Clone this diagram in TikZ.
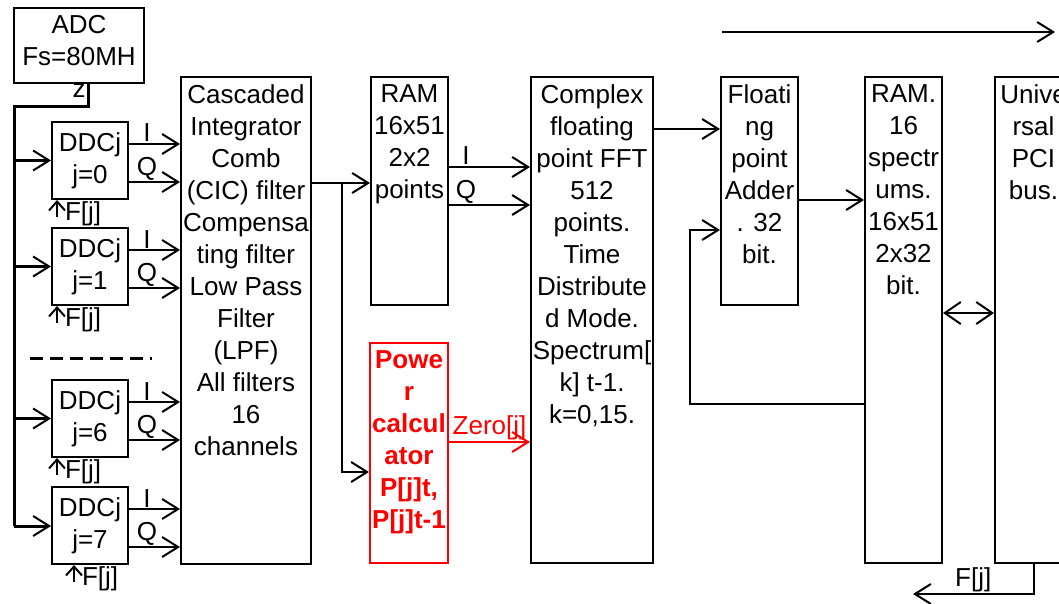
\documentclass[tikz,border=0pt]{standalone}
\usepackage{fontspec}
\setmainfont{Liberation Sans}
\usetikzlibrary{arrows.meta,positioning,calc}
\definecolor{pwrred}{RGB}{255,0,0}

\begin{document}
\begin{tikzpicture}[x=1pt,y=-1pt,font=\fontsize{26}{32}\selectfont,
  blk/.style={draw,line width=2pt,inner sep=0pt},
  intext/.style={anchor=north,align=center,inner sep=0pt,yshift=-8pt},
  ddc/.style={blk,minimum width=76pt,minimum height=77pt,align=center},
  tall/.style={blk,minimum width=77pt,minimum height=486pt},
  half/.style={blk,minimum width=77pt,minimum height=228pt},
  arr/.style={line width=2pt,-{Straight Barb[length=16pt,width=20pt,line width=2pt]}},
  bus/.style={line width=3pt},
  farr/.style={line width=2pt,-{Straight Barb[length=9pt,width=16pt,line width=2pt]}},
  flbl/.style={midway,anchor=west,xshift=6pt,yshift=-5pt,inner sep=1pt},
  iq/.style={pos=0,anchor=south,xshift=18pt,inner sep=1pt}]
  \path[use as bounding box,clip] (0,0) rectangle (1059,604);
  % ADC and the DDC channels
  \node[blk,minimum width=130pt,minimum height=75pt,
    label={[intext]north:{ADC\\Fs=80MH\\z}}] (adc) at (79,45.5) {};
  \foreach \k/\yy in {0/160.5,1/266.5,6/418.5,7/525.5}
    \node[ddc] (ddc\k) at (90,\yy) {DDCj\\j=\k};
  \draw[bus,dash pattern=on 13pt off 7pt] (30,358) -- (152,358);
  % filter block
  \node[blk,minimum width=130pt,minimum height=487pt,
    label={[intext]north:{Cascaded\\Integrator\\Comb\\(CIC) filter\\Compensa\\ting filter\\Low Pass\\Filter\\(LPF)\\All filters\\16\\channels}}] (cic) at (246,320.5) {};
  % memories, power, FFT, adder, PCI
  \node[half,label={[intext]north:{RAM\\16x51\\2x2\\points}}] (ram) at (409.5,191) {};
  \node[blk,draw=pwrred,minimum width=78pt,minimum height=220pt,
    label={[intext,text=pwrred,font=\fontsize{26}{32}\selectfont\bfseries]north:{Powe\\r\\calcul\\ator\\P[j]t,\\P[j]t-1}}] (pwr) at (409,453) {};
  \node[tall,minimum width=122pt,
    label={[intext]north:{Complex\\floating\\point FFT\\512\\points.\\Time\\Distribute\\d Mode.\\Spectrum[\\k] t-1.\\k=0,15.}}] (fft) at (592,320) {};
  \node[half,label={[intext]north:{Floati\\ng\\point\\Adder\\. 32\\bit.}}] (add) at (759.5,191) {};
  \node[tall,label={[intext]north:{RAM.\\16\\spectr\\ums.\\16x51\\2x32\\bit.}}] (ramb) at (903.5,320) {};
  \node[tall,label={[intext]north:{Unive\\rsal\\PCI\\bus.}}] (pci) at (1033.5,320) {};
  % ADC bus to the channels
  \coordinate (bustop) at (14,107);
  \coordinate (busbot) at (14,526);
  \draw[bus] ([xshift=9pt]adc.south) |- (bustop) -- (busbot);
  \draw[arr,line width=3pt] (busbot) -- (busbot -| ddc7.west);
  \foreach \k in {0,1,6}
    \draw[arr,line width=3pt] (bustop |- ddc\k.west) -- (ddc\k.west);
  % I/Q outputs and F[j] inputs
  \foreach \k in {0,1,6,7} {
    \coordinate (i\k) at ([yshift=-23pt]ddc\k.north east);
    \coordinate (q\k) at ([yshift=-61pt]ddc\k.north east);
    \draw[arr] (i\k) -- node[iq]{I} (i\k -| cic.west);
    \draw[arr] (q\k) -- node[iq]{Q} (q\k -| cic.west);
  }
  \foreach \k in {0,1,6}
    \draw[farr] ([xshift=6pt,yshift=-17pt]ddc\k.south west) -- node[flbl]{F[j]} ([xshift=6pt]ddc\k.south west);
  \draw[farr] ([xshift=23pt,yshift=-17pt]ddc7.south west) -- node[flbl]{F[j]} ([xshift=23pt]ddc7.south west);
  % filter output
  \coordinate (split) at (342,183);
  \draw[arr] (cic.east |- split) -- (split -| ram.west);
  \draw[arr] (split) |- ([yshift=-19pt]pwr.west);
  % RAM to FFT
  \coordinate (ri) at ([yshift=-91pt]ram.north east);
  \coordinate (rq) at ([yshift=-129pt]ram.north east);
  \draw[arr] (ri) -- node[iq,xshift=-1pt]{I} (ri -| fft.west);
  \draw[arr] (rq) -- node[iq,xshift=-1pt]{Q} (rq -| fft.west);
  \coordinate (zr) at ([yshift=11pt]pwr.east);
  \draw[arr,draw=pwrred] (zr) -- node[midway,above,inner sep=1pt,text=pwrred]{Zero[j]} (zr -| fft.west);
  % FFT, adder, spectrum RAM
  \coordinate (fo) at ([yshift=-53pt]fft.north east);
  \draw[arr] (fo) -- (fo -| add.west);
  \coordinate (ao) at ([yshift=-9pt]add.east);
  \draw[arr] (ao) -- (ao -| ramb.west);
  \coordinate (fb) at ([yshift=-84pt]ramb.west);
  \coordinate (ai) at ([yshift=-39pt]add.west);
  \draw[arr,line width=2.6pt] (fb) -| ([xshift=-30pt]ai) -- (ai);
  \coordinate (bx) at ([yshift=7pt]ramb.east);
  \draw[line width=2pt,{Straight Barb[length=16pt,width=22pt]}-{Straight Barb[length=16pt,width=22pt]}] (bx) -- (bx -| pci.west);
  % PCI feedback and top arrow
  \coordinate (fout) at (913,594);
  \draw[arr] (pci.south) |- node[pos=0.75,above,inner sep=1pt]{F[j]} (fout);
  \coordinate (ta) at (722,32);
  \coordinate (tb) at (1055,32);
  \draw[arr] (ta) -- (tb);
\end{tikzpicture}
\end{document}
